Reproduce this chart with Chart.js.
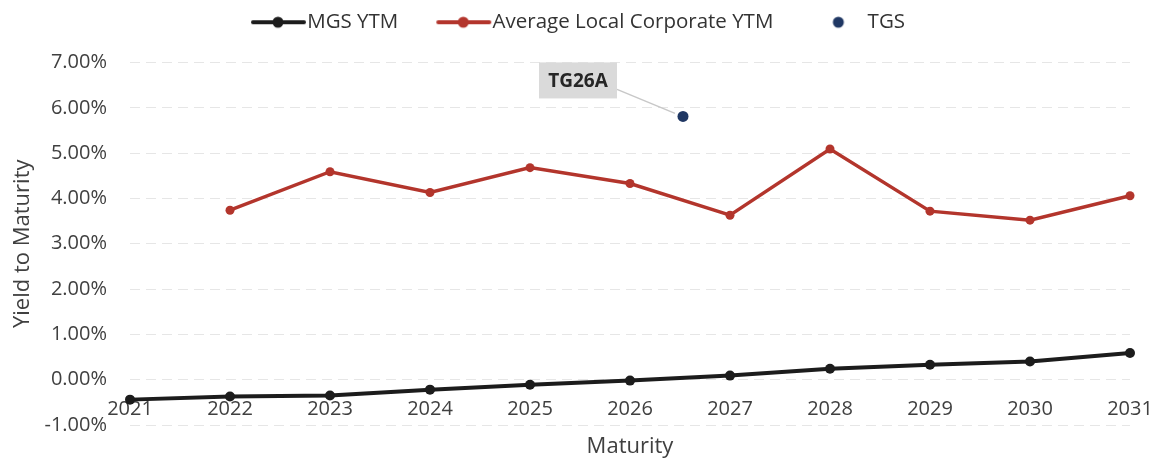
<!DOCTYPE html>
<html>
<head>
<meta charset="utf-8">
<script src="https://cdn.jsdelivr.net/npm/chart.js@4/dist/chart.umd.min.js"></script>
<style>
  html, body { margin: 0; padding: 0; background: #fff; }
  #wrap { width: 1163px; height: 461px; position: relative; }
</style>
</head>
<body>
<div id="wrap"><canvas id="yieldChart"></canvas></div>
<script>
// data (percent)
const years = [2021, 2022, 2023, 2024, 2025, 2026, 2027, 2028, 2029, 2030, 2031];
const mgsYtm = [-0.44, -0.37, -0.35, -0.22, -0.11, -0.02, 0.09, 0.24, 0.33, 0.40, 0.59];
const corpYtm = [null, 3.74, 4.59, 4.13, 4.68, 4.33, 3.63, 5.09, 3.72, 3.52, 4.06];
const tgsMaturity = [2026.53];
const tgsYtm = [5.81];
const tgsNames = ["TG26A"];
const yTicks = [-1, 0, 1, 2, 3, 4, 5, 6, 7];

const FONT = "'Open Sans', sans-serif";
const black = "#1c1c1c";
const red = "#b3352c";
const navy = "#1f3763";

// legend pictures: transparent margin on the left keeps the gap between items
function legendIcon(color, withLine) {
  const c = document.createElement("canvas");
  c.width = 96;
  c.height = 14;
  const g = c.getContext("2d");
  g.fillStyle = color;
  g.strokeStyle = color;
  if (withLine) {
    g.lineWidth = 4;
    g.lineCap = "round";
    g.beginPath();
    g.moveTo(40, 7);
    g.lineTo(91, 7);
    g.stroke();
  }
  g.beginPath();
  g.arc(65, 7, 5.5, 0, Math.PI * 2);
  g.fill();
  return c;
}

const toPoints = (xs, ys) => xs.map((x, i) => ({ x: x, y: ys[i] }));

// callout box for the TGS point
const calloutPlugin = {
  id: "callout",
  afterDatasetsDraw(chart) {
    const ctx = chart.ctx;
    const xs = chart.scales.x;
    const ys = chart.scales.y;
    tgsNames.forEach((name, i) => {
      const px = xs.getPixelForValue(tgsMaturity[i]);
      const py = ys.getPixelForValue(tgsYtm[i]);
      const bx = px - 144, by = py - 54, bw = 78, bh = 36;
      ctx.save();
      ctx.strokeStyle = "#c8c8c8";
      ctx.lineWidth = 1.5;
      ctx.beginPath();
      ctx.moveTo(bx + bw, by + 27);
      ctx.lineTo(px - 8, py - 3);
      ctx.stroke();
      ctx.fillStyle = "#dadada";
      ctx.fillRect(bx, by, bw, bh);
      ctx.fillStyle = "#262626";
      ctx.font = "bold 19px " + FONT;
      ctx.textAlign = "center";
      ctx.textBaseline = "middle";
      ctx.fillText(name, bx + bw / 2, by + bh / 2 + 1);
      ctx.restore();
    });
  }
};

// more room under the legend
const legendGap = {
  id: "legendGap",
  beforeInit(chart) {
    const fit = chart.legend.fit;
    chart.legend.fit = function () {
      fit.call(this);
      this.height += 20;
    };
  }
};

const ctx = document.getElementById("yieldChart").getContext("2d");

new Chart(ctx, {
  type: "line",
  data: {
    datasets: [
      {
        label: "MGS YTM",
        data: toPoints(years, mgsYtm),
        borderColor: black,
        backgroundColor: black,
        borderWidth: 4,
        pointRadius: 5,
        pointBackgroundColor: black,
        pointBorderWidth: 0,
        clip: false,
        legendIcon: legendIcon(black, true)
      },
      {
        label: "Average Local Corporate YTM",
        data: toPoints(years, corpYtm),
        borderColor: red,
        backgroundColor: red,
        borderWidth: 3.5,
        pointRadius: 4.5,
        pointBackgroundColor: red,
        pointBorderWidth: 0,
        clip: false,
        legendIcon: legendIcon(red, true)
      },
      {
        label: "TGS",
        data: toPoints(tgsMaturity, tgsYtm),
        showLine: false,
        borderColor: navy,
        backgroundColor: navy,
        pointRadius: 5.5,
        pointBorderWidth: 0,
        legendIcon: legendIcon(navy, false)
      }
    ]
  },
  options: {
    responsive: true,
    maintainAspectRatio: false,
    animation: false,
    layout: { padding: { left: 0, right: 33, top: 0, bottom: 36 } },
    plugins: {
      tooltip: { enabled: false },
      legend: {
        position: "top",
        labels: {
          font: { family: FONT, size: 20.5 },
          color: "#333",
          usePointStyle: true,
          pointStyleWidth: 72,
          boxHeight: 14,
          padding: 12,
          generateLabels(chart) {
            return chart.data.datasets.map((ds, i) => ({
              text: ds.label,
              pointStyle: ds.legendIcon,
              fillStyle: ds.borderColor,
              strokeStyle: ds.borderColor,
              lineWidth: 0,
              fontColor: "#333",
              hidden: false,
              datasetIndex: i
            }));
          }
        }
      }
    },
    scales: {
      x: {
        type: "linear",
        min: years[0],
        max: years[years.length - 1],
        position: { y: 0 },
        grid: { display: false, drawTicks: false },
        border: { display: false },
        afterFit(scale) {
          scale.paddingLeft = 0;
          scale.paddingRight = 0;
        },
        afterBuildTicks(scale) {
          scale.ticks = years.map(v => ({ value: v }));
        },
        ticks: {
          padding: 18,
          color: "#404040",
          font: { family: FONT, size: 20 },
          callback: v => String(v)
        },
        title: {
          display: true,
          text: "Maturity",
          color: "#404040",
          font: { family: FONT, size: 22 },
          padding: { top: -6, bottom: 0 }
        }
      },
      y: {
        min: -1,
        max: 7,
        afterFit(scale) { scale.width = 130; },
        afterBuildTicks(scale) {
          scale.ticks = yTicks.map(v => ({ value: v }));
        },
        grid: {
          color: "#e6e6e6",
          lineWidth: 1,
          drawTicks: false
        },
        border: { display: false, dash: [10, 6] },
        ticks: {
          padding: 23,
          color: "#404040",
          font: { family: FONT, size: 20 },
          callback: v => v.toFixed(2) + "%"
        },
        title: {
          display: true,
          text: "Yield to Maturity",
          color: "#404040",
          font: { family: FONT, size: 22 },
          padding: { top: 10, bottom: 0 }
        }
      }
    }
  },
  plugins: [calloutPlugin, legendGap]
});
</script>
</body>
</html>
